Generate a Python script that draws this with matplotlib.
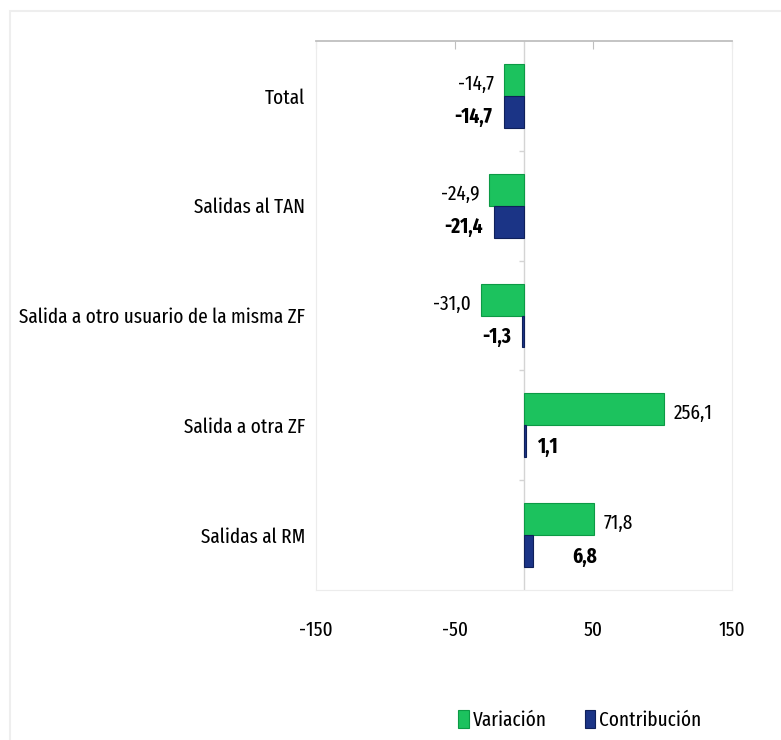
import numpy as np
import matplotlib.pyplot as plt
from matplotlib.patches import Rectangle

categorias = ['Total', 'Salidas al TAN', 'Salida a otro usuario de la misma ZF',
              'Salida a otra ZF', 'Salidas al RM']
variacion = [-14.7, -24.9, -31.0, 256.1, 71.8]
contribucion = [-14.7, -21.4, -1.3, 1.1, 6.8]
# largo con que el grafico original dibuja las barras de variacion
# (las dos positivas aparecen recortadas frente a su etiqueta)
variacion_barra = [-14.7, -24.9, -31.0, 101.0, 50.5]
xticks = [-150, -50, 50, 150]

verde = '#1cc25e'
azul = '#1b3486'
fuente = ['Fira Sans Extra Condensed', 'Roboto Condensed', 'DejaVu Sans']
plt.rcParams['font.family'] = fuente

def fmt(v):
    return ('%.1f' % v).replace('.', ',')

fig = plt.figure(figsize=(7.81, 7.40), dpi=100)

# tamano de letra ajustado para que la etiqueta larga mida ~287 px
r = fig.canvas.get_renderer()
t = fig.text(0, 0, categorias[2], fontsize=10)
fs = 10 * 287 / t.get_window_extent(r).width
t.remove()

# borde del area del grafico
fig.patches.append(Rectangle((10 / 781, -0.1), 1.1, 1 - 11 / 740 + 0.1,
                             transform=fig.transFigure, fill=False,
                             edgecolor='#eeeeee', lw=1.5))

ax = fig.add_axes([316 / 781, 1 - 590 / 740, 416 / 781, 549 / 740])

y = np.arange(len(categorias))
h = 0.29
ax.barh(y - h / 2, variacion_barra, height=h, color=verde, edgecolor='#0c9a45',
        lw=0.8, label='Variación', zorder=3)
ax.barh(y + h / 2, contribucion, height=h, color=azul, edgecolor='#0f205a',
        lw=0.8, label='Contribución', zorder=3)

ax.set_xlim(-150, 150)
ax.set_ylim(len(categorias) - 0.5, -0.5)

for i in range(len(categorias)):
    vb = variacion_barra[i]
    ax.annotate(fmt(variacion[i]), (vb, i - h / 2 + 0.04), xytext=(7 if vb > 0 else -7, 0),
                textcoords='offset points', ha='left' if vb > 0 else 'right',
                va='center', fontsize=fs)
    c = contribucion[i]
    off = 28 if i == 4 else 8
    ax.annotate(fmt(c), (c, i + h / 2 + 0.05), xytext=(off if c > 0 else -off, 0),
                textcoords='offset points', ha='left' if c > 0 else 'right',
                va='center', fontsize=fs, fontweight='bold')

# linea del cero con marcas entre categorias
ax.axvline(0, color='#d4d4d4', lw=1, zorder=2)
bordes = np.arange(len(categorias) + 1) - 0.5
ax.hlines(bordes[1:-1], -3.5, 0, color='#d4d4d4', lw=1, zorder=2)

ax.set_yticks(y)
ax.set_yticklabels(categorias, fontsize=fs)
ax.tick_params(axis='y', length=0, pad=8)

ax.set_xticks(xticks)
ax.set_xticklabels([str(t) for t in xticks], fontsize=fs)
ax.tick_params(axis='x', bottom=False, top=True, direction='in', length=6,
               color='#bfbfbf', pad=22)

for s in ['left', 'right', 'bottom']:
    ax.spines[s].set_color('#ececec')
ax.spines['top'].set_color('#bfbfbf')
ax.spines['top'].set_linewidth(1.3)

fig.legend(loc='center', bbox_to_anchor=(580 / 781, 20 / 740), ncol=2, frameon=False,
           fontsize=fs, handlelength=0.5, handleheight=1.0, handletextpad=0.2,
           columnspacing=1.8)

fig.savefig('out.png', dpi=100)
